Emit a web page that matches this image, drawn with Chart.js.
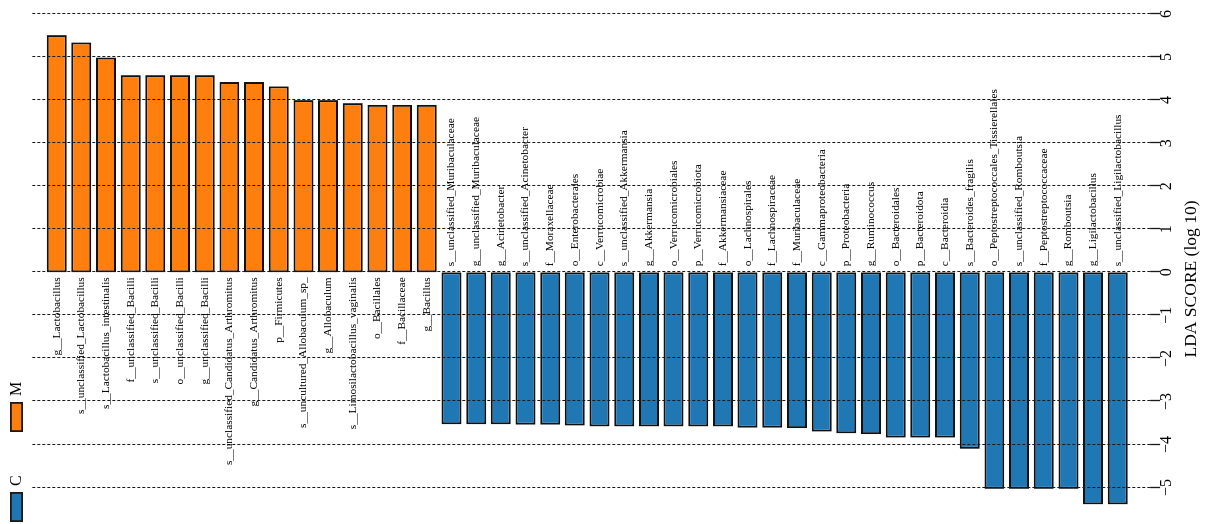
<!DOCTYPE html>
<html>
<head>
<meta charset="utf-8">
<title>LEfSe LDA scores</title>
<script src="https://cdn.jsdelivr.net/npm/chart.js@4.4.1/dist/chart.umd.min.js"></script>
<style>
  html, body { margin: 0; padding: 0; background: #fff; overflow: hidden; }
  body { width: 1206px; height: 524px; position: relative; }
  /* chart is laid out as horizontal bars, then turned a quarter counter-clockwise */
  #wrap {
    position: absolute; left: 0; top: 0;
    width: 524px; height: 1206px;
    transform-origin: 0 0;
    transform: translateY(524px) rotate(-90deg);
  }
</style>
</head>
<body>
<div id="wrap"><canvas id="lefse" width="524" height="1206"></canvas></div>
<script>
// taxa in plotted order (M enriched first, then C enriched)
const taxaM = [
  'g__Lactobacillus', 's__unclassified_Lactobacillus', 's__Lactobacillus_intestinalis',
  'f__unclassified_Bacilli', 's__unclassified_Bacilli', 'o__unclassified_Bacilli',
  'g__unclassified_Bacilli', 's__unclassified_Candidatus_Arthromitus', 'g__Candidatus_Arthromitus',
  'p__Firmicutes', 's__uncultured_Allobaculum_sp_', 'g__Allobaculum',
  's__Limosilactobacillus_vaginalis', 'o__Bacillales', 'f__Bacillaceae', 'g__Bacillus'
];
const taxaC = [
  's__unclassified_Muribaculaceae', 'g__unclassified_Muribaculaceae', 'g__Acinetobacter',
  's__unclassified_Acinetobacter', 'f__Moraxellaceae', 'o__Enterobacterales',
  'c__Verrucomicrobiae', 's__unclassified_Akkermansia', 'g__Akkermansia',
  'o__Verrucomicrobiales', 'p__Verrucomicrobiota', 'f__Akkermansiaceae',
  'o__Lachnospirales', 'f__Lachnospiraceae', 'f__Muribaculaceae',
  'c__Gammaproteobacteria', 'p__Proteobacteria', 'g__Ruminococcus',
  'o__Bacteroidales', 'p__Bacteroidota', 'c__Bacteroidia',
  's__Bacteroides_fragilis', 'o__Peptostreptococcales_Tissierellales', 's__unclassified_Romboutsia',
  'f__Peptostreptococcaceae', 'g__Romboutsia', 'g__Ligilactobacillus', 's__unclassified_Ligilactobacillus'
];

// LDA scores (log 10)
const ldaM = [5.51, 5.34, 4.99, 4.58, 4.58, 4.58, 4.58, 4.42, 4.42, 4.32,
              4.00, 4.00, 3.93, 3.89, 3.89, 3.89];
const ldaC = [-3.53, -3.53, -3.53, -3.54, -3.54, -3.56, -3.58, -3.58, -3.58, -3.58,
              -3.58, -3.58, -3.61, -3.61, -3.62, -3.70, -3.74, -3.76, -3.84, -3.84,
              -3.84, -4.10, -5.03, -5.03, -5.03, -5.03, -5.39, -5.39];

const ldaTicks = [-5, -4, -3, -2, -1, 0, 1, 2, 3, 4, 5, 6];
const groupNames = ['C', 'M'];
const groupColors = { C: '#1f77b4', M: '#ff7f0e' };

const labels = taxaM.concat(taxaC);
const serif = '"Liberation Serif", "DejaVu Serif", serif';

function fmtTick(v) {
  return v < 0 ? '\u2212' + Math.abs(v) : String(v);
}

const lefsePlugin = {
  id: 'lefse',
  afterDatasetsDraw(chart) {
    const { ctx, chartArea, scales: { x, y } } = chart;
    const gridTop = chartArea.top - 12;
    const gridEnd = chartArea.bottom + 20;
    ctx.save();

    // dashed grid, drawn over the bars
    ctx.strokeStyle = '#1a1a1a';
    ctx.lineWidth = 1;
    ldaTicks.forEach(v => {
      const px = Math.round(x.getPixelForValue(v)) + 0.5;
      ctx.setLineDash([3, 2]);
      ctx.beginPath();
      ctx.moveTo(px, gridTop);
      ctx.lineTo(px, gridEnd);
      ctx.stroke();
      ctx.setLineDash([]);
      ctx.lineWidth = 1.3;
      ctx.beginPath();
      ctx.moveTo(px, gridEnd);
      ctx.lineTo(px, gridEnd + 10);
      ctx.stroke();
      ctx.lineWidth = 1;
    });

    // tick labels
    ctx.fillStyle = '#000';
    ctx.font = '16px ' + serif;
    ctx.textAlign = 'center';
    ctx.textBaseline = 'middle';
    ldaTicks.forEach(v => {
      ctx.fillText(fmtTick(v), x.getPixelForValue(v), gridEnd + 17);
    });

    // axis title
    ctx.font = '17.5px ' + serif;
    ctx.fillText('LDA SCORE (log 10)', 245, gridEnd + 41);

    // taxon names next to the zero line
    const zero = x.getPixelForValue(0);
    ctx.font = '11.35px ' + serif;
    labels.forEach((name, i) => {
      const py = y.getPixelForValue(i);
      const positive = i < taxaM.length;
      ctx.textAlign = positive ? 'right' : 'left';
      ctx.fillText(name, positive ? zero - 5 : zero + 6, py);
    });

    // group legend
    let lx = 2;
    ctx.font = '16px ' + serif;
    ctx.textAlign = 'left';
    groupNames.forEach(g => {
      ctx.fillStyle = groupColors[g];
      ctx.fillRect(lx, 10, 30, 13);
      ctx.strokeStyle = '#1a1a1a';
      ctx.lineWidth = 1.8;
      ctx.strokeRect(lx + 0.9, 10.9, 28.2, 11.2);
      ctx.fillStyle = '#000';
      ctx.fillText(g, lx + 36, 17);
      lx += 90;
    });

    ctx.restore();
  }
};

new Chart(document.getElementById('lefse'), {
  type: 'bar',
  data: {
    labels: labels,
    datasets: [
      {
        label: 'M',
        data: ldaM.concat(taxaC.map(() => null)),
        backgroundColor: groupColors.M
      },
      {
        label: 'C',
        data: taxaM.map(() => null).concat(ldaC),
        backgroundColor: groupColors.C
      }
    ]
  },
  options: {
    indexAxis: 'y',
    responsive: false,
    devicePixelRatio: 1,
    animation: false,
    layout: { padding: { left: 6.3, right: 14, top: 44.3, bottom: 75.9 } },
    datasets: {
      bar: {
        grouped: false,
        categoryPercentage: 1,
        barPercentage: 0.81,
        borderColor: '#111',
        borderWidth: 2,
        borderSkipped: false
      }
    },
    scales: {
      x: { type: 'linear', min: -5.7, max: 6, display: false },
      y: { display: false }
    },
    plugins: {
      legend: { display: false },
      tooltip: { enabled: false }
    }
  },
  plugins: [lefsePlugin]
});
</script>
</body>
</html>
